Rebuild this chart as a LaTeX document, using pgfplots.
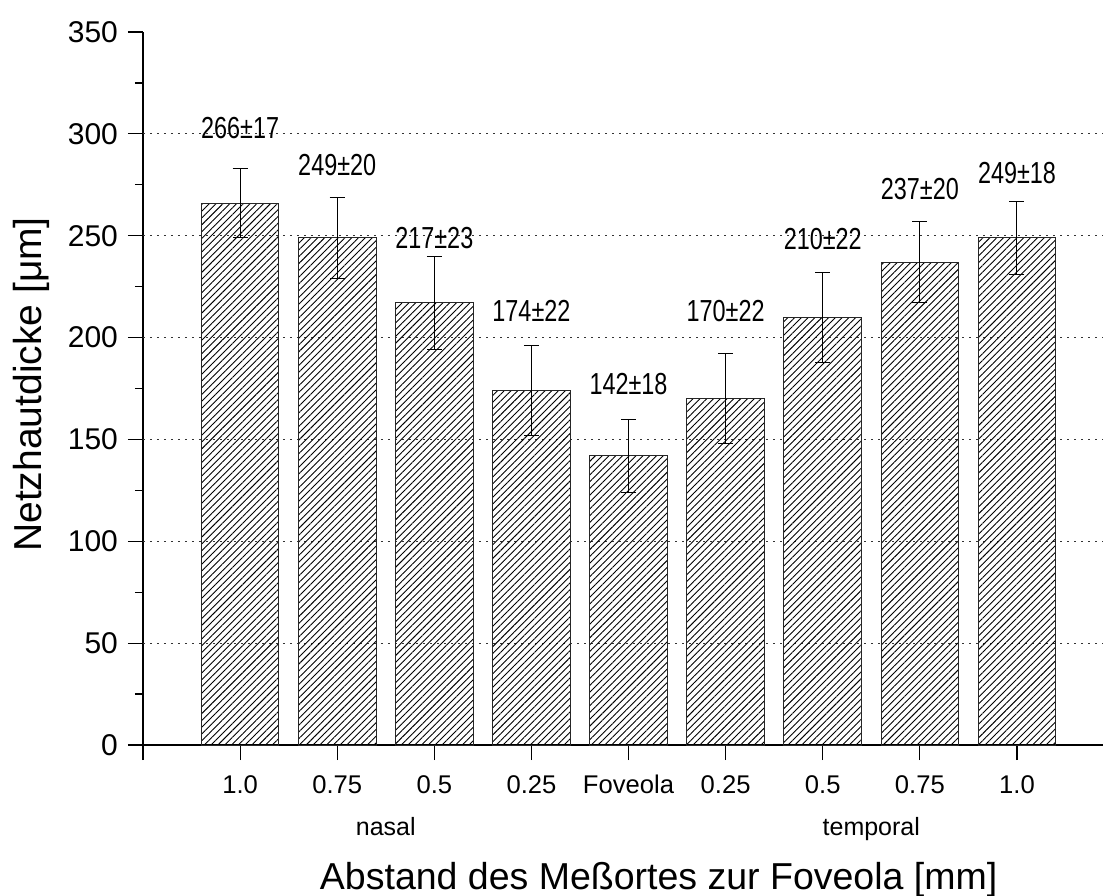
\documentclass[border=0pt]{standalone}
\usepackage{pgfplots}
\pgfplotsset{compat=1.18}
\usepackage{fontspec}
\setmainfont{Liberation Sans}
\newfontfamily\narrowfont{Liberation Sans}[FakeStretch=0.77]
\usetikzlibrary{patterns.meta,calc}

\pgfplotstableread{
x y e
1 266 17
2 249 20
3 217 23
4 174 22
5 142 18
6 170 22
7 210 22
8 237 20
9 249 18
}\datatable

\newcommand{\barlab}{\narrowfont\fontsize{15.2}{18}\selectfont}

\begin{document}
\begin{tikzpicture}
\begin{axis}[
  name=ax,
  width=480pt, height=356.5pt, scale only axis,
  xmin=0, xmax=9.886, ymin=0, ymax=350,
  axis lines=left, axis line style={-, line width=0.6pt},
  xtick={0,...,9}, xticklabels={,1.0,0.75,0.5,0.25,Foveola,0.25,0.5,0.75,1.0},
  ytick={0,50,...,350}, minor y tick num=1,
  tick align=outside, major tick length=7.5pt, minor tick length=4pt,
  tick style={black, line width=0.6pt},
  xticklabel style={font=\fontsize{12.8}{15}\selectfont, text height=9.2pt, text depth=0pt, yshift=-4pt},
  yticklabel style={font=\fontsize{15}{18}\selectfont, xshift=-1.5pt},
  /pgf/number format/assume math mode=true,
  extra y ticks={50,100,...,300}, extra y tick labels={},
  extra y tick style={grid=major, major tick length=0pt},
  grid style={black!80, line width=0.5pt, dash pattern=on 0.8pt off 2.7pt},
  clip=false,
]
\addplot[ybar, bar width=0.8, draw=black!85, line width=0.5pt,
  pattern={Lines[angle=45,distance=2.4pt,line width=0.45pt]}, pattern color=black,
  error bars/.cd, y dir=both, y explicit,
  error bar style={black, line width=0.5pt},
  error mark options={rotate=90, mark size=3.75pt, black, line width=0.5pt}]
  table[x=x, y=y, y error=e] {\datatable};

\node[font=\barlab] at (axis cs:1,302.8) {266±17};
\node[font=\barlab] at (axis cs:2,284.5) {249±20};
\node[font=\barlab] at (axis cs:3,248.7) {217±23};
\node[font=\barlab] at (axis cs:4,213) {174±22};
\node[font=\barlab] at (axis cs:5,177) {142±18};
\node[font=\barlab] at (axis cs:6,213) {170±22};
\node[font=\barlab] at (axis cs:7,248.5) {210±22};
\node[font=\barlab] at (axis cs:8,273) {237±20};
\node[font=\barlab] at (axis cs:9,281) {249±18};

\node[anchor=base, font=\fontsize{12.5}{15}\selectfont] at ($(axis cs:2.5,0)+(0,-45pt)$) {nasal};
\node[anchor=base, font=\fontsize{12.5}{15}\selectfont] at ($(axis cs:7.5,0)+(0,-45pt)$) {temporal};
\node[anchor=base, font=\fontsize{18.75}{22}\selectfont] at ($(axis cs:5.31,0)+(0,-72pt)$) {Abstand des Meßortes zur Foveola [mm]};
\node[anchor=base, rotate=90, font=\fontsize{19.5}{23}\selectfont] at ($(axis cs:0,177)+(-50.5pt,0)$) {Netzhautdicke [μm]};
\end{axis}
\pgfresetboundingbox
\path ($(ax.south west)+(-71.5pt,-75pt)$) rectangle ($(ax.north east)+(0pt,16pt)$);
\end{tikzpicture}
\end{document}
